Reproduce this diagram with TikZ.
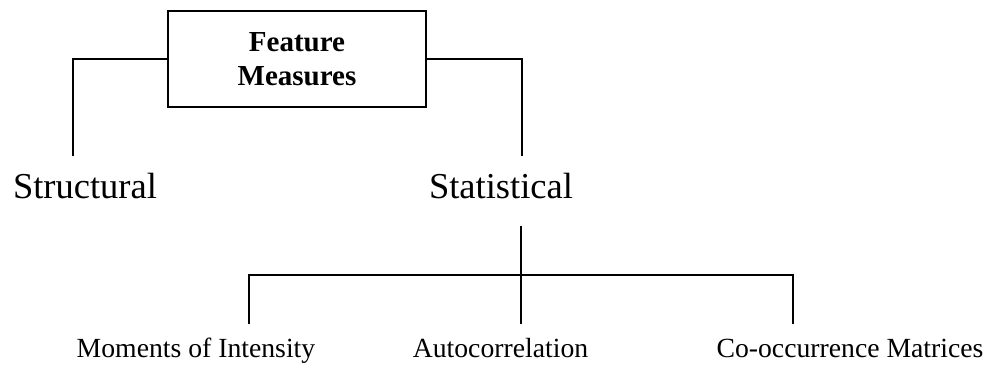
\documentclass[tikz,border=0pt]{standalone}
\usepackage{fontspec}
\setmainfont{Liberation Serif}
\begin{document}
\begin{tikzpicture}[x=1pt,y=-1pt,
  conn/.style={line width=1.6pt,line cap=rect},
  biglabel/.style={anchor=base,inner sep=0pt,font=\fontsize{36.5}{40}\selectfont},
  smalllabel/.style={anchor=base,inner sep=0pt,font=\fontsize{27.7}{32}\selectfont},
  rootbox/.style={draw,line width=1.6pt,minimum width=258pt,minimum height=96pt,inner sep=0pt,align=center,font=\fontsize{29}{34}\selectfont\bfseries}]
\useasboundingbox (0,0) rectangle (996,365);
\node[rootbox] (fm) at (297,59) {Feature\\Measures};
\node[biglabel] (structural) at (85,198) {Structural};
\node[biglabel] (statistical) at (501,198) {Statistical};
\node[smalllabel] (moments) at (196,357) {Moments of Intensity};
\node[smalllabel] (auto) at (500.5,357) {Autocorrelation};
\node[smalllabel] (cooc) at (850,357) {Co-occurrence Matrices};
\coordinate (sl) at (73,155);
\coordinate (sr) at (522,155);
\coordinate (sttop) at (521,227);
\coordinate (j) at (521,275);
\coordinate (m1) at (249,323);
\coordinate (m2) at (521,323);
\coordinate (m3) at (793,323);
\draw[conn] (fm.west) -| (sl);
\draw[conn] (fm.east) -| (sr);
\draw[conn] (sttop) -- (m2);
\draw[conn] (m1) |- (j) -| (m3);
\end{tikzpicture}
\end{document}
